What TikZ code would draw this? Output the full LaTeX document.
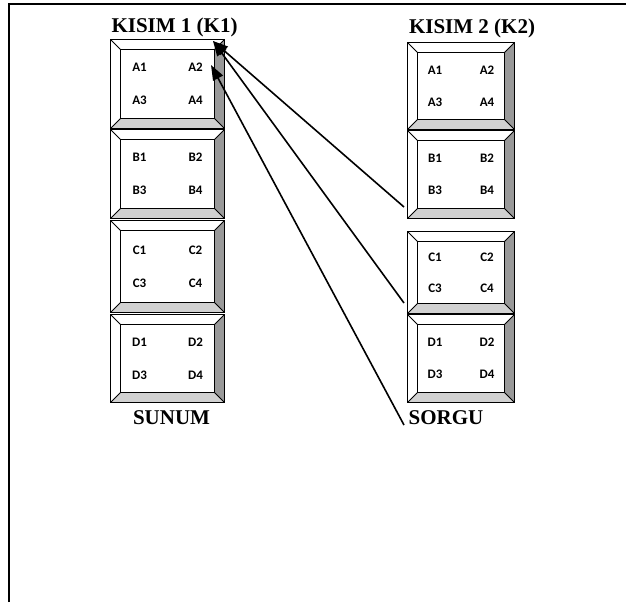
\documentclass[tikz,border=0pt]{standalone}
\usepackage{fontspec}
\setmainfont{Liberation Serif}
\newfontfamily\hucrefont{Carlito}
\usetikzlibrary{positioning,arrows.meta,calc}
\definecolor{koyugri}{gray}{0.6}
\definecolor{acikgri}{gray}{0.82}

\begin{document}
\begin{tikzpicture}[
  x=1pt, y=-1pt,
  >={Triangle[length=15pt,width=11pt]},
  baslik/.style={font=\fontsize{21}{24}\selectfont\bfseries, inner sep=0pt, anchor=base},
  hucre/.style={font=\hucrefont\fontsize{13}{15}\selectfont\bfseries, inner sep=0pt},
  kutu/.style={rectangle, inner sep=0pt, fill=white},
  kenar/.style={draw=black, line width=0.9pt},
  sorgubag/.style={->, draw=black, line width=1.6pt}
]
  \useasboundingbox (0,0) rectangle (626,602);
  % cerceve
  \draw[line width=2pt] (9,602) -- (9,4.5) -- (626,4.5);

  % kisimlar
  \foreach \ad/\x/\y/\g/\h/\dx/\dy/\harf in {
    k1a/167.5/84/113/88/28/16.5/A, k1b/167.5/174/113/88/28/16.5/B,
    k1c/167.5/266.5/113/91/28/16.5/C, k1d/167.5/358.5/113/87/28/16.5/D,
    k2a/461/86/106/86/26/16/A, k2b/461/174.5/106/87/26/16/B,
    k2c/461/272.5/106/81/26/15.5/C, k2d/461/358.5/106/87/26/16/D}
  {
    \node[kutu, minimum width=\g, minimum height=\h] (\ad) at (\x,\y) {};
    \fill[acikgri] (\ad.south west) -- (\ad.south east) -- ($(\ad.south east)+(-10,-10)$) -- ($(\ad.south west)+(10,-10)$) -- cycle;
    \fill[koyugri] (\ad.south east) -- (\ad.north east) -- ($(\ad.north east)+(-10,10)$) -- ($(\ad.south east)+(-10,-10)$) -- cycle;
    \draw[kenar] (\ad.south west) rectangle (\ad.north east);
    \draw[kenar] ($(\ad.south west)+(10,-10)$) rectangle ($(\ad.north east)+(-10,10)$);
    \draw[kenar] (\ad.north west) -- ++(10,10) (\ad.north east) -- ++(-10,10)
                 (\ad.south west) -- ++(10,-10) (\ad.south east) -- ++(-10,-10);
    \node[hucre] (\ad-1) at ($(\ad.center)+(-\dx,-\dy)$) {\harf1};
    \node[hucre] (\ad-2) at ($(\ad.center)+(\dx,-\dy)$) {\harf2};
    \node[hucre] (\ad-3) at ($(\ad.center)+(-\dx,\dy)$) {\harf3};
    \node[hucre] (\ad-4) at ($(\ad.center)+(\dx,\dy)$) {\harf4};
  }

  \node[baslik] (k1) at (174.5,33) {KISIM 1 (K1)};
  \node[baslik] (k2) at (472,34) {KISIM 2 (K2)};
  \node[baslik] (sunum) at (171.5,424) {SUNUM};
  \node[baslik] (sorgu) at (446,424) {SORGU};

  % baglantilar
  \coordinate (u1) at (404,207);
  \coordinate (u2) at (404,303);
  \coordinate (u3) at (404,425);
  \coordinate (t1) at (213,41);
  \coordinate (t2) at (211,65);
  \draw[sorgubag] (u1) -- (t1);
  \draw[sorgubag] (u2) -- (t1);
  \draw[sorgubag] (u3) -- (t2);
\end{tikzpicture}
\end{document}
